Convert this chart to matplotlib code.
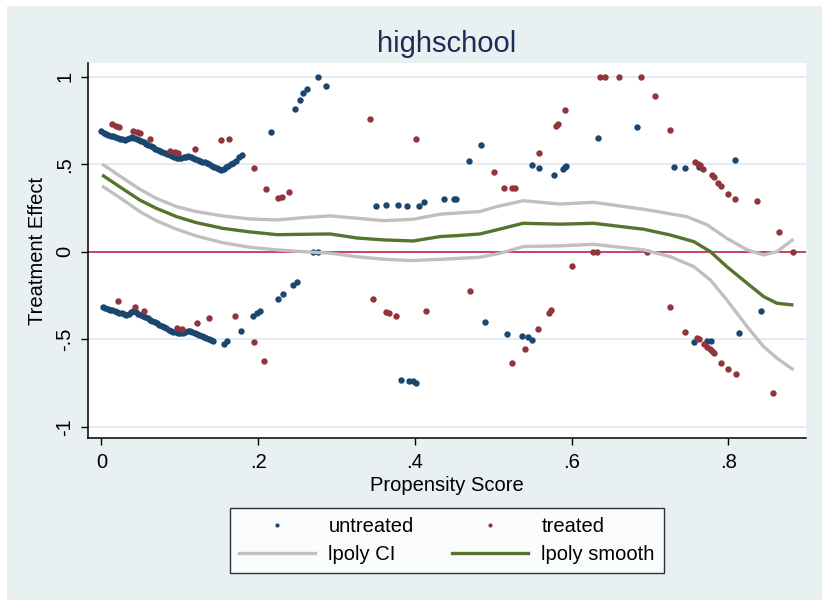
import matplotlib
matplotlib.use('Agg')
import matplotlib.pyplot as plt
from matplotlib.patches import Rectangle
from matplotlib.lines import Line2D

plt.rcParams['font.family'] = ['Liberation Sans', 'DejaVu Sans']

# 未处理组 (untreated) 的散点
untreated_x = [
    0.000, 0.003, 0.006, 0.009, 0.012, 0.015, 0.018, 0.021, 0.024, 0.027,
    0.030, 0.033, 0.036, 0.039, 0.042, 0.045, 0.048, 0.051, 0.054, 0.057,
    0.060, 0.063, 0.066, 0.069, 0.072, 0.075, 0.078, 0.081, 0.084, 0.087,
    0.090, 0.093, 0.096, 0.099, 0.102, 0.105, 0.108, 0.111, 0.114, 0.117,
    0.120, 0.123, 0.126, 0.129, 0.132, 0.135, 0.138, 0.141, 0.144, 0.147,
    0.150, 0.153, 0.156, 0.159, 0.162, 0.165, 0.168, 0.172, 0.176, 0.180,
    0.002, 0.005, 0.008, 0.011, 0.014, 0.017, 0.020, 0.023, 0.026, 0.029,
    0.032, 0.035, 0.038, 0.041, 0.044, 0.047, 0.050, 0.053, 0.056, 0.059,
    0.062, 0.065, 0.068, 0.071, 0.074, 0.077, 0.080, 0.083, 0.086, 0.089,
    0.092, 0.095, 0.098, 0.101, 0.104, 0.107, 0.110, 0.113, 0.116, 0.119,
    0.122, 0.125, 0.128, 0.131, 0.134, 0.137, 0.140, 0.143,
    0.156, 0.160, 0.178, 0.194, 0.198, 0.203, 0.226, 0.232, 0.245, 0.249,
    0.217, 0.247, 0.253, 0.257, 0.262, 0.277, 0.287, 0.270, 0.277,
    0.351, 0.363, 0.379, 0.390, 0.405, 0.412, 0.437, 0.450, 0.452,
    0.469, 0.484, 0.550, 0.558, 0.577, 0.589, 0.591, 0.593, 0.634,
    0.382, 0.392, 0.397, 0.402, 0.489, 0.517, 0.537, 0.544, 0.550,
    0.684, 0.730, 0.744, 0.763, 0.808,
    0.756, 0.773, 0.778, 0.814, 0.842,
]
untreated_y = [
    0.688, 0.680, 0.674, 0.668, 0.663, 0.658, 0.654, 0.650, 0.646, 0.642,
    0.639, 0.641, 0.648, 0.653, 0.648, 0.642, 0.636, 0.630, 0.624, 0.617,
    0.610, 0.603, 0.596, 0.589, 0.582, 0.575, 0.568, 0.562, 0.556, 0.550,
    0.545, 0.540, 0.536, 0.534, 0.535, 0.538, 0.543, 0.547, 0.543, 0.537,
    0.531, 0.525, 0.520, 0.515, 0.510, 0.504, 0.498, 0.492, 0.485, 0.478,
    0.471, 0.466, 0.472, 0.482, 0.492, 0.500, 0.507, 0.520, 0.538, 0.553,
    -0.314, -0.320, -0.326, -0.331, -0.336, -0.341, -0.345, -0.349, -0.353, -0.358,
    -0.360, -0.354, -0.343, -0.341, -0.347, -0.354, -0.361, -0.368, -0.375, -0.382,
    -0.389, -0.396, -0.403, -0.410, -0.417, -0.424, -0.431, -0.438, -0.445, -0.451,
    -0.457, -0.461, -0.465, -0.466, -0.463, -0.457, -0.453, -0.455, -0.461, -0.467,
    -0.473, -0.478, -0.484, -0.489, -0.494, -0.498, -0.503, -0.508,
    -0.526, -0.510, -0.451, -0.366, -0.353, -0.339, -0.272, -0.242, -0.190, -0.173,
    0.686, 0.814, 0.865, 0.909, 0.930, 1.000, 0.945, 0.000, 0.000,
    0.259, 0.265, 0.265, 0.261, 0.259, 0.282, 0.301, 0.301, 0.301,
    0.516, 0.611, 0.497, 0.480, 0.440, 0.471, 0.482, 0.489, 0.648,
    -0.735, -0.739, -0.742, -0.748, -0.404, -0.469, -0.484, -0.490, -0.505,
    0.711, 0.486, 0.480, 0.482, 0.524,
    -0.514, -0.511, -0.511, -0.466, -0.337,
]

# 处理组 (treated) 的散点
treated_x = [
    0.014, 0.019, 0.023, 0.040, 0.045, 0.049, 0.062, 0.087, 0.094, 0.098,
    0.119, 0.153, 0.163, 0.195, 0.210, 0.226, 0.231, 0.239,
    0.021, 0.043, 0.054, 0.097, 0.103, 0.122, 0.138, 0.170, 0.195, 0.207,
    0.343, 0.402, 0.501, 0.514, 0.524, 0.528, 0.558, 0.580, 0.582, 0.591,
    0.636, 0.643, 0.660, 0.688, 0.627, 0.633,
    0.346, 0.363, 0.367, 0.376, 0.414, 0.470, 0.524, 0.541, 0.557, 0.571,
    0.574, 0.601,
    0.706, 0.725, 0.757, 0.761, 0.764, 0.768, 0.779, 0.782, 0.787, 0.790,
    0.799, 0.808, 0.836, 0.864, 0.882, 0.696,
    0.726, 0.745, 0.760, 0.762, 0.769, 0.773, 0.776, 0.779, 0.782, 0.791,
    0.800, 0.810, 0.857,
]
treated_y = [
    0.728, 0.720, 0.711, 0.690, 0.683, 0.676, 0.644, 0.574, 0.568, 0.564,
    0.589, 0.636, 0.646, 0.480, 0.358, 0.307, 0.310, 0.341,
    -0.284, -0.314, -0.337, -0.436, -0.440, -0.408, -0.379, -0.367, -0.518, -0.626,
    0.760, 0.642, 0.454, 0.366, 0.366, 0.366, 0.564, 0.720, 0.730, 0.808,
    1.000, 1.000, 1.000, 1.000, 0.000, 0.000,
    -0.272, -0.345, -0.350, -0.367, -0.337, -0.223, -0.634, -0.556, -0.442, -0.352,
    -0.335, -0.082,
    0.888, 0.694, 0.514, 0.503, 0.493, 0.474, 0.436, 0.427, 0.394, 0.374,
    0.330, 0.303, 0.292, 0.113, 0.000, 0.000,
    -0.316, -0.459, -0.495, -0.500, -0.529, -0.543, -0.554, -0.566, -0.579, -0.636,
    -0.672, -0.699, -0.806,
]

# lpoly 平滑曲线及置信区间
smooth_x = [0.001, 0.028, 0.049, 0.070, 0.096, 0.121, 0.155, 0.189, 0.224,
            0.257, 0.292, 0.326, 0.360, 0.398, 0.432, 0.455, 0.483, 0.504,
            0.538, 0.585, 0.628, 0.692, 0.726, 0.756, 0.777, 0.798, 0.824,
            0.845, 0.862, 0.883]
smooth_y = [0.438, 0.357, 0.295, 0.248, 0.200, 0.166, 0.133, 0.113, 0.097,
            0.099, 0.101, 0.078, 0.067, 0.061, 0.086, 0.092, 0.101, 0.124,
            0.162, 0.157, 0.162, 0.128, 0.095, 0.057, 0.000, -0.086, -0.181,
            -0.257, -0.295, -0.305]

ci_hi_x = [0.001, 0.028, 0.049, 0.070, 0.096, 0.121, 0.155, 0.189, 0.224,
           0.257, 0.292, 0.326, 0.360, 0.398, 0.432, 0.483, 0.504, 0.538,
           0.585, 0.628, 0.692, 0.747, 0.773, 0.798, 0.824, 0.845, 0.862,
           0.883]
ci_hi_y = [0.501, 0.419, 0.357, 0.305, 0.257, 0.229, 0.204, 0.187, 0.181,
           0.194, 0.204, 0.191, 0.177, 0.185, 0.214, 0.229, 0.257, 0.291,
           0.272, 0.282, 0.242, 0.200, 0.153, 0.076, 0.010, -0.019, 0.000,
           0.071]

ci_lo_x = [0.001, 0.028, 0.049, 0.070, 0.096, 0.121, 0.155, 0.189, 0.224,
           0.257, 0.292, 0.326, 0.360, 0.394, 0.432, 0.483, 0.509, 0.538,
           0.585, 0.628, 0.692, 0.726, 0.756, 0.777, 0.798, 0.824, 0.845,
           0.862, 0.883]
ci_lo_y = [0.375, 0.295, 0.229, 0.177, 0.128, 0.090, 0.051, 0.025, 0.010,
           0.000, -0.009, -0.029, -0.043, -0.051, -0.044, -0.032, -0.009, 0.029,
           0.033, 0.042, 0.010, -0.029, -0.086, -0.162, -0.276, -0.429, -0.543,
           -0.609, -0.676]

x_ticks = [0, 0.2, 0.4, 0.6, 0.8]
x_labels = ['0', '.2', '.4', '.6', '.8']
y_ticks = [-1, -0.5, 0, 0.5, 1]
y_labels = ['-1', '-.5', '0', '.5', '1']

BG = '#e8f0f2'
NAVY = '#1a476f'
MAROON = '#90353b'
SILVER = '#c0c0c0'
GREEN = '#55752f'

fig = plt.figure(figsize=(8.22, 6.0), dpi=100)
fig.patch.set_facecolor('white')
fig.patches.append(Rectangle((7 / 822, 0), 1, 1 - 6 / 600, transform=fig.transFigure,
                             facecolor=BG, edgecolor='none', zorder=-10))

ax = fig.add_axes([88 / 822, 162 / 600, (806 - 88) / 822, (438 - 63) / 600])
ax.set_facecolor('white')
ax.set_xlim(-0.017, 0.899)
ax.set_ylim(-1.065, 1.078)

for yv in y_ticks:
    ax.axhline(yv, color='#e4ecef', lw=1.4, zorder=0)
ax.axhline(0, color='#c4143c', lw=1.1, zorder=1)

ax.plot(untreated_x, untreated_y, 'o', ms=4.6, color=NAVY, mec='none', zorder=3)
ax.plot(treated_x, treated_y, 'o', ms=4.6, color=MAROON, mec='none', zorder=3)
ax.plot(ci_hi_x, ci_hi_y, color=SILVER, lw=2.4, zorder=4, solid_capstyle='butt')
ax.plot(ci_lo_x, ci_lo_y, color=SILVER, lw=2.4, zorder=4, solid_capstyle='butt')
ax.plot(smooth_x, smooth_y, color=GREEN, lw=2.4, zorder=5, solid_capstyle='butt')

for s in ['top', 'right']:
    ax.spines[s].set_visible(False)
for s in ['left', 'bottom']:
    ax.spines[s].set_linewidth(1.1)

ax.set_xticks(x_ticks)
ax.set_xticklabels(x_labels, fontsize=14.5)
ax.set_yticks(y_ticks)
ax.set_yticklabels(y_labels, fontsize=14.5, rotation=90, va='center')
ax.tick_params(axis='x', length=5, width=1, pad=6)
ax.tick_params(axis='y', length=5, width=1, pad=5)

ax.set_xlabel('Propensity Score', fontsize=14.5, labelpad=3)
ax.set_ylabel('Treatment Effect', fontsize=14.5, labelpad=6)
ax.set_title('highschool', fontsize=21, color='#1e2d53', pad=8)

handles = [
    Line2D([], [], ls='none', marker='o', ms=3, color=NAVY, mec='none'),
    Line2D([], [], color=SILVER, lw=2.4),
    Line2D([], [], ls='none', marker='o', ms=3, color=MAROON, mec='none'),
    Line2D([], [], color=GREEN, lw=2.4),
]
labels = ['untreated', 'lpoly CI', 'treated', 'lpoly smooth']
leg = fig.legend(handles, labels, ncol=2, loc='center',
                 bbox_to_anchor=(446.7 / 822, (600 - 540.3) / 600),
                 fontsize=14.5, frameon=True, fancybox=False,
                 handlelength=3.8, handletextpad=0.65, columnspacing=1.9,
                 labelspacing=0.45, borderpad=0.45, borderaxespad=0)
leg.get_frame().set_edgecolor('black')
leg.get_frame().set_linewidth(1.0)

fig.savefig('out.png', dpi=100, facecolor=fig.get_facecolor())
